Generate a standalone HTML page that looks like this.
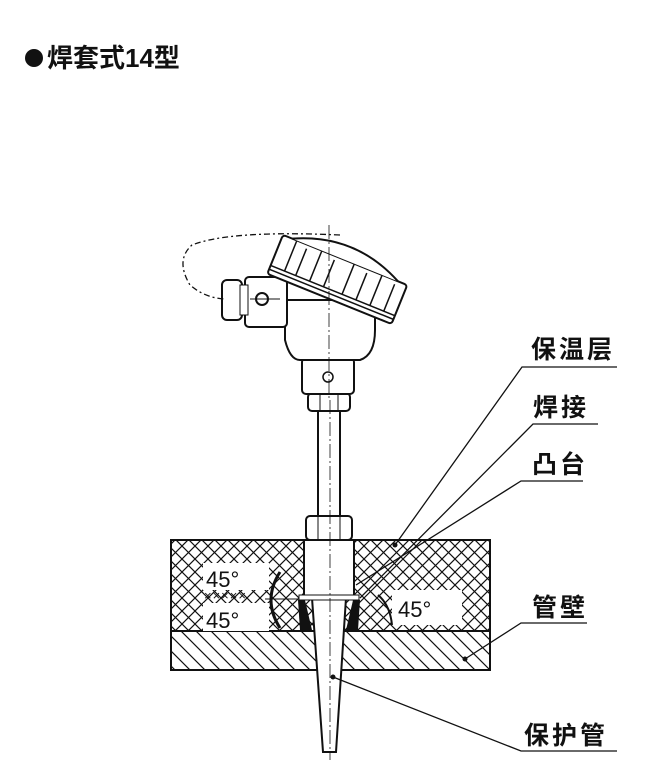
<!DOCTYPE html>
<html><head><meta charset="utf-8"><style>
body{margin:0;background:#fff}
svg{display:block}
text{font-family:"Liberation Sans","Noto Sans CJK SC",sans-serif;fill:#111}
</style></head><body>
<svg width="650" height="783" viewBox="0 0 650 783" xmlns="http://www.w3.org/2000/svg">
<defs>
<pattern id="ch" width="13" height="13" patternUnits="userSpaceOnUse">
<path d="M0 0L13 13M13 0L0 13" stroke="#111" stroke-width="1.2"/>
</pattern>
<pattern id="dg" width="15" height="15" patternUnits="userSpaceOnUse">
<path d="M0 0L15 15M-7.5 7.5L7.5 22.5M7.5 -7.5L22.5 7.5" stroke="#111" stroke-width="1.2"/>
</pattern>
</defs>
<circle cx="34" cy="58" r="9" fill="#111"/>
<text x="47" y="67" font-size="26" font-weight="bold">焊套式14型</text>

<rect x="171" y="540" width="319" height="91" fill="url(#ch)" stroke="#111" stroke-width="2"/>
<rect x="171" y="631" width="319" height="39" fill="url(#dg)" stroke="#111" stroke-width="2"/>
<rect x="203" y="563" width="66" height="27" fill="#fff"/>
<rect x="203" y="603" width="66" height="28" fill="#fff"/>
<rect x="392" y="590" width="70" height="35" fill="#fff"/>
<text x="206" y="587" font-size="22">45°</text>
<text x="206" y="628" font-size="22">45°</text>
<text x="398" y="617" font-size="22">45°</text>
<text x="204" y="600" font-size="13" letter-spacing="1">×××××</text>
<path d="M280 572 Q262 600 280 628" fill="none" stroke="#111" stroke-width="3"/>
<path d="M378 595 Q390 605 392 625" fill="none" stroke="#111" stroke-width="2"/>
<line x1="265" y1="599" x2="300" y2="599" stroke="#111"/>

<rect x="304" y="540" width="50" height="56" fill="#fff" stroke="#111" stroke-width="2"/>
<path d="M304 596 L298 600 L300 630 L312 630 Z" fill="#111"/>
<path d="M354 596 L360 600 L358 630 L346 630 Z" fill="#111"/>
<path d="M312 598 L346 598 L336 752 L323 752 Z" fill="#fff" stroke="#111" stroke-width="2"/>
<rect x="299" y="595" width="60" height="5" fill="#fff" stroke="#111"/>

<rect x="306" y="516" width="46" height="24" rx="4" fill="#fff" stroke="#111" stroke-width="2"/>
<line x1="318" y1="516" x2="318" y2="540" stroke="#111"/><line x1="340" y1="516" x2="340" y2="540" stroke="#111"/>
<rect x="318" y="410" width="22" height="106" fill="#fff" stroke="#111" stroke-width="2"/>
<rect x="308" y="393" width="42" height="18" rx="4" fill="#fff" stroke="#111" stroke-width="2"/>
<line x1="320" y1="393" x2="320" y2="411" stroke="#111"/><line x1="338" y1="393" x2="338" y2="411" stroke="#111"/>
<rect x="302" y="358" width="52" height="36" rx="4" fill="#fff" stroke="#111" stroke-width="2"/>
<circle cx="328" cy="377" r="5" fill="none" stroke="#111" stroke-width="1.5"/>
<path d="M285 300 L285 340 Q290 360 300 360 L360 360 Q375 355 375 330 L375 300 Z" fill="#fff" stroke="#111" stroke-width="2"/>
<rect x="245" y="277" width="42" height="50" rx="4" fill="#fff" stroke="#111" stroke-width="2"/>
<rect x="222" y="280" width="20" height="40" rx="5" fill="#fff" stroke="#111" stroke-width="2"/>
<rect x="240" y="285" width="8" height="30" fill="#fff" stroke="#111"/>
<circle cx="262" cy="299" r="6" fill="none" stroke="#111" stroke-width="2"/>
<line x1="250" y1="299" x2="280" y2="299" stroke="#111"/>
<g transform="rotate(22 335 285)">
<rect x="268" y="258" width="134" height="42" rx="3" fill="#fff" stroke="#111" stroke-width="2"/>
<line x1="268" y1="291" x2="402" y2="291" stroke="#111" stroke-width="1.5"/>
<line x1="268" y1="295" x2="402" y2="295" stroke="#111" stroke-width="1.5"/>
<g stroke="#111" stroke-width="1.5"><line x1="283" y1="258" x2="283" y2="291"/><line x1="295" y1="262" x2="295" y2="291"/><line x1="310" y1="258" x2="310" y2="291"/><line x1="325" y1="262" x2="325" y2="291"/><line x1="345" y1="258" x2="345" y2="291"/><line x1="360" y1="262" x2="360" y2="291"/><line x1="375" y1="258" x2="375" y2="291"/><line x1="390" y1="262" x2="390" y2="291"/></g>
<path d="M278 258 Q335 230 392 258" fill="#fff" stroke="#111" stroke-width="2"/>
</g>
<line x1="329" y1="225" x2="329" y2="400" stroke="#111" stroke-width="0.8" stroke-dasharray="14 3 2 3"/>
<line x1="330" y1="400" x2="330" y2="760" stroke="#111" stroke-width="0.8" stroke-dasharray="14 3 2 3"/>
<path d="M340 235 Q230 230 192 245 Q175 260 190 285 Q205 298 225 299" fill="none" stroke="#111" stroke-width="1.3" stroke-dasharray="6 3 2 3"/>

<g stroke="#111" stroke-width="1.3" fill="none">
<path d="M617 367 L522 367 L395 545"/>
<path d="M598 424 L533 424 L360 598"/>
<path d="M583 481 L521 481 L356 585"/>
<path d="M587 623 L521 623 L465 659"/>
<path d="M617 751 L521 751 L333 677"/>
</g>
<circle cx="395" cy="545" r="2.5" fill="#111"/><circle cx="465" cy="659" r="2.5" fill="#111"/><circle cx="333" cy="677" r="2.5" fill="#111"/>
<g font-size="25" font-weight="bold" letter-spacing="3">
<text x="531" y="358">保温层</text>
<text x="533" y="416">焊接</text>
<text x="532" y="473">凸台</text>
<text x="532" y="616">管壁</text>
<text x="524" y="744">保护管</text>
</g>
</svg>
</body></html>
